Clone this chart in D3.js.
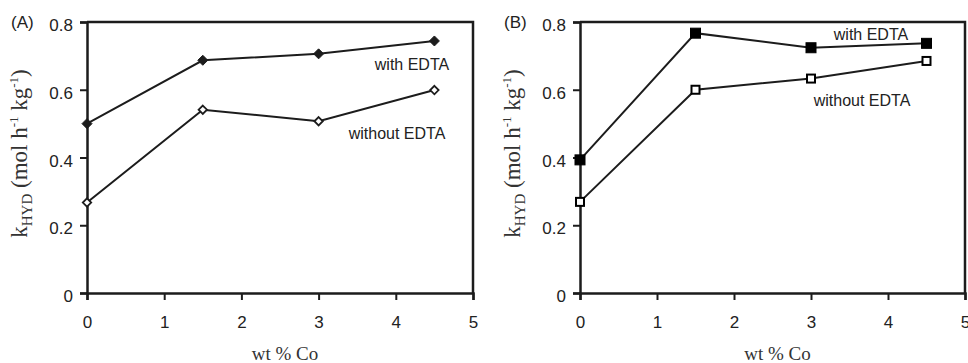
<!DOCTYPE html>
<html><head><meta charset="utf-8">
<script src="https://cdn.jsdelivr.net/npm/d3@7"></script>
<style>body{margin:0;background:#fff}svg{display:block}</style>
</head><body>
<svg id="c" width="968" height="363"></svg>
<script>
const xValues = [0, 1.5, 3, 4.5];
const xTicks = [0, 1, 2, 3, 4, 5];
const yTicks = [0, 0.2, 0.4, 0.6, 0.8];
const yTickLabels = ["0", "0.2", "0.4", "0.6", "0.8"];
const panelLabels = ["(A)", "(B)"];
const seriesNames = ["with EDTA", "without EDTA"];
const aWithEDTA = [0.50, 0.687, 0.706, 0.744];
const aWithoutEDTA = [0.267, 0.541, 0.507, 0.599];
const bWithEDTA = [0.393, 0.767, 0.724, 0.737];
const bWithoutEDTA = [0.269, 0.600, 0.633, 0.685];
const xTitle = "wt % Co";

(function () {
const svg = d3.select("#c");
const ink = "#1c1c1c";
const panels = [
  {left: 87, right: 473, label: panelLabels[0], series: [aWithEDTA, aWithoutEDTA], shape: "diamond",
   labels: [{x: 412, y: 70, anchor: "middle"}, {x: 397, y: 139, anchor: "middle"}]},
  {left: 580, right: 965, label: panelLabels[1], series: [bWithEDTA, bWithoutEDTA], shape: "square",
   labels: [{x: 871, y: 40, anchor: "middle"}, {x: 862, y: 106, anchor: "middle"}]}
];
const plotTop = 22, plotBottom = 293;

panels.forEach(p => {
  const g = svg.append("g");
  const x = d3.scaleLinear().domain([0, 5]).range([p.left, p.right]);
  const y = d3.scaleLinear().domain([0, 0.8]).range([plotBottom, plotTop]);

  g.append("path").attr("d", `M${p.left},${plotTop}H${p.right}V${plotBottom}`)
    .attr("fill", "none").attr("stroke", ink).attr("stroke-width", 2.5);

  const ya = g.append("g").attr("transform", `translate(${p.left},0)`)
    .call(d3.axisLeft(y).tickValues(yTicks).tickFormat((d, i) => yTickLabels[i]).tickSize(7).tickPadding(7));
  const xa = g.append("g").attr("transform", `translate(0,${plotBottom})`)
    .call(d3.axisBottom(x).tickValues(xTicks).tickFormat(d3.format("d")).tickSize(7).tickPadding(16));
  [ya, xa].forEach(a => {
    a.select(".domain").attr("stroke", ink).attr("stroke-width", 2.5);
    a.selectAll(".tick line").attr("stroke", ink).attr("stroke-width", 2);
    a.selectAll("text").attr("font-family", "Liberation Sans, Arial, sans-serif")
      .attr("font-size", 17).attr("fill", "#222");
  });
  ya.selectAll(".tick text").attr("dy", "0.5em");

  g.append("text").attr("x", p.left - 76).attr("y", plotTop + 6)
    .attr("font-family", "Liberation Sans, Arial, sans-serif").attr("font-size", 17).attr("fill", "#222")
    .text(p.label);

  const yt = g.append("text")
    .attr("transform", `translate(${p.left - 60},${(plotTop + plotBottom) / 2 - 4}) rotate(-90)`)
    .attr("text-anchor", "middle")
    .attr("font-family", "Liberation Serif, Times New Roman, serif").attr("font-size", 23).attr("fill", "#333");
  yt.append("tspan").text("k");
  yt.append("tspan").attr("font-size", 15).attr("dy", 5).text("HYD");
  yt.append("tspan").attr("dy", -5).text(" (mol h");
  yt.append("tspan").attr("font-size", 13).attr("dy", -9).text("-1");
  yt.append("tspan").attr("dy", 9).text(" kg");
  yt.append("tspan").attr("font-size", 13).attr("dy", -9).text("-1");
  yt.append("tspan").attr("dy", 9).text(")");

  g.append("text").attr("x", (p.left + p.right) / 2 + 5).attr("y", 360)
    .attr("text-anchor", "middle")
    .attr("font-family", "Liberation Serif, Times New Roman, serif").attr("font-size", 19).attr("fill", "#333")
    .text(xTitle);

  const line = d3.line().x((d, i) => x(xValues[i])).y(d => y(d));
  p.series.forEach((vals, si) => {
    g.append("path").datum(vals).attr("d", line)
      .attr("fill", "none").attr("stroke", ink).attr("stroke-width", 2);
    const filled = si === 0;
    vals.forEach((v, i) => {
      const cx = x(xValues[i]), cy = y(v);
      if (p.shape === "diamond") {
        const r = filled ? 5 : 4.2;
        g.append("path").attr("d", `M${cx},${cy - r}L${cx + r},${cy}L${cx},${cy + r}L${cx - r},${cy}Z`)
          .attr("fill", filled ? ink : "#fff").attr("stroke", ink).attr("stroke-width", filled ? 1 : 1.8);
      } else {
        const s = filled ? 10 : 8;
        g.append("rect").attr("x", cx - s / 2).attr("y", cy - s / 2).attr("width", s).attr("height", s)
          .attr("fill", filled ? "#000" : "#fff").attr("stroke", "#000").attr("stroke-width", filled ? 1 : 2);
      }
    });
    const L = p.labels[si];
    g.append("text").attr("x", L.x).attr("y", L.y).attr("text-anchor", L.anchor)
      .attr("font-family", "Liberation Sans, Arial, sans-serif").attr("font-size", 16).attr("fill", "#222")
      .text(seriesNames[si]);
  });
});
})();
</script>
</body></html>
